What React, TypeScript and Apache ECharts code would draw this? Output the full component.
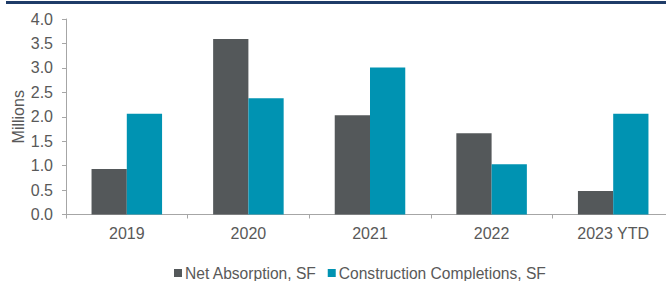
import React, { useEffect, useRef } from "react";
import * as echarts from "echarts";

const categories = ["2019", "2020", "2021", "2022", "2023 YTD"];
const netAbsorption = [0.93, 3.59, 2.03, 1.66, 0.48];
const completions = [2.06, 2.38, 3.01, 1.03, 2.06];
const seriesNames = ["Net Absorption, SF", "Construction Completions, SF"];

export default function App() {
  const ref = useRef<HTMLDivElement>(null);
  useEffect(() => {
    const chart = echarts.init(ref.current!, null, { renderer: "svg" });
    const font = "'Liberation Sans', Arial, sans-serif";
    chart.setOption({
      animation: false,
      textStyle: { fontFamily: font },
      graphic: [
        {
          type: "rect",
          shape: { x: 6, y: 1, width: 680, height: 3 },
          style: { fill: "#1f3c68" },
        },
      ],
      legend: {
        top: 265,
        left: 174,
        padding: 0,
        itemWidth: 8,
        itemHeight: 8,
        itemGap: 11,
        icon: "rect",
        textStyle: { fontSize: 15.6, color: "#595959", fontFamily: font, padding: [0, 0, 0, -2] },
        data: seriesNames,
      },
      grid: { left: 66, top: 19, width: 608, bottom: 66.5, outerBoundsMode: "none", containLabel: false },
      xAxis: {
        type: "category",
        data: categories,
        axisLine: { lineStyle: { color: "#a6a6a6", width: 1 } },
        axisTick: { show: true, length: 4, lineStyle: { color: "#a6a6a6" } },
        axisLabel: { fontSize: 16, color: "#595959", margin: 11, fontFamily: font },
      },
      yAxis: {
        type: "value",
        min: 0,
        max: 4,
        interval: 0.5,
        name: "Millions",
        nameLocation: "middle",
        nameGap: 40,
        nameMoveOverlap: false,
        nameTextStyle: { fontSize: 16, color: "#595959", fontFamily: font },
        axisLine: { show: true, lineStyle: { color: "#a6a6a6" } },
        axisTick: { show: true, length: 4, lineStyle: { color: "#a6a6a6" } },
        splitLine: { show: false },
        axisLabel: {
          fontSize: 16,
          color: "#595959",
          margin: 13,
          fontFamily: font,
          formatter: (v: number) => v.toFixed(1),
        },
      },
      series: [
        {
          name: seriesNames[0],
          type: "bar",
          data: netAbsorption,
          barGap: "0%",
          barCategoryGap: "42%",
          itemStyle: { color: "#54585a" },
        },
        {
          name: seriesNames[1],
          type: "bar",
          data: completions,
          barGap: "0%",
          barCategoryGap: "42%",
          itemStyle: { color: "#0093b2" },
        },
      ],
    });
    return () => chart.dispose();
  }, []);
  return (
    <div style={{ position: "absolute", left: 0, top: 0, width: 666, height: 281, overflow: "hidden" }}>
      <div ref={ref} style={{ width: 690, height: 281 }} />
    </div>
  );
}
